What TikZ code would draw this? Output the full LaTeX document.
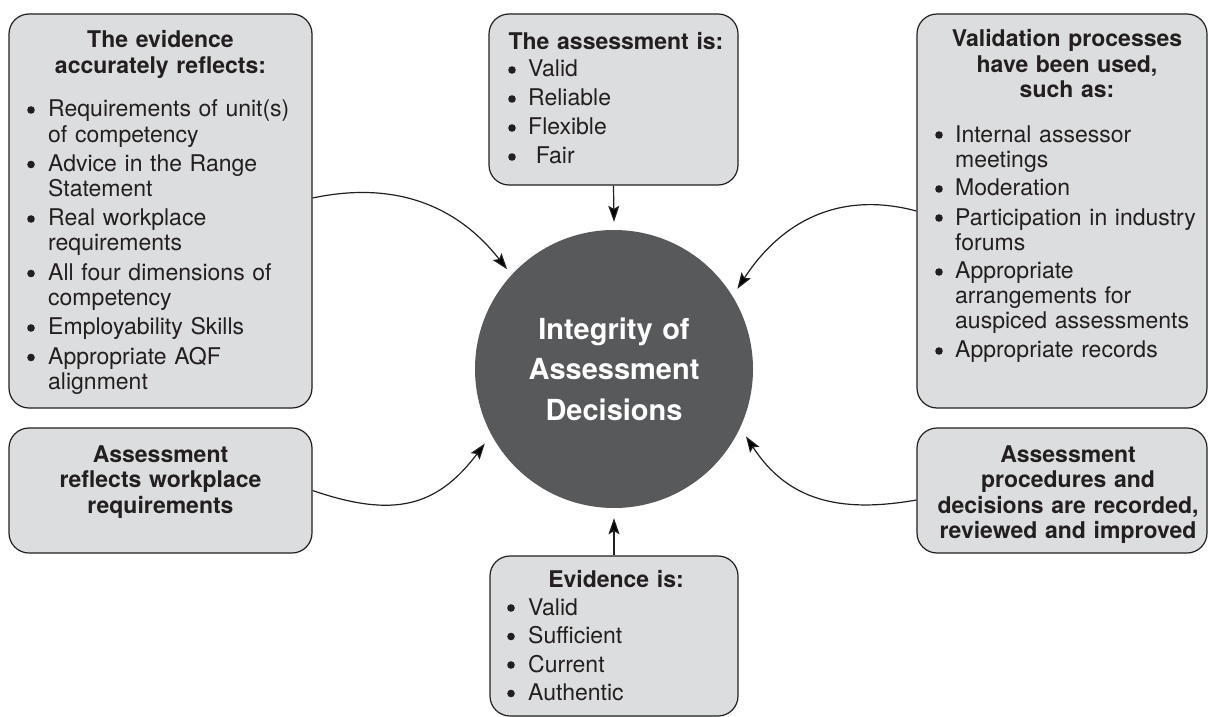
\documentclass[tikz,border=0pt]{standalone}
\usepackage{fontspec}
\setmainfont{TeX Gyre Heros}
\usetikzlibrary{arrows.meta}
\definecolor{boxfill}{HTML}{DCDDDE}
\definecolor{ink}{HTML}{231F20}
\definecolor{discfill}{HTML}{58595B}
\newlength\bulind
\newlength\itemgap
\newcommand\bdot{\tikz[baseline={(0pt,-7pt)}]\fill[ink] (0pt,0pt) circle (3.8pt);}
\newcommand\firstitem[1]{\hangindent=\bulind\hangafter=1 \makebox[\bulind][l]{\bdot}#1}
\newcommand\nextitem[1]{\par\vspace{\itemgap}\noindent\firstitem{#1}}
\tikzset{
  box/.style={draw=ink, line width=1.2pt, fill=boxfill, rounded corners=20pt, inner sep=0pt},
  disc/.style={circle, fill=discfill, minimum size=278pt, inner sep=0pt},
  ttl/.style={anchor=base, inner sep=0pt, text width=#1, align=center, text=ink,
    font=\bfseries\fontsize{23}{25.5}\selectfont},
  lst/.style n args={3}{anchor=base west, inner sep=0pt, text width=#1, align=left, text=ink,
    font=\fontsize{23}{25}\selectfont,
    execute at begin node={\setlength\bulind{#2}\setlength\itemgap{#3}}},
  arr/.style={draw=ink, line width=1.2pt, -{Stealth[length=16pt,width=11pt,inset=3pt]}},
}
\begin{document}
\begin{tikzpicture}[x=1pt,y=-1pt]
\useasboundingbox (0,0) rectangle (1208,717);
% boxes
\node[box, minimum width=303pt, minimum height=394pt] (tl) at (160.5,211) {};
\node[box, minimum width=249pt, minimum height=171pt] (tc) at (613.5,99.5) {};
\node[box, minimum width=290pt, minimum height=394pt] (tr) at (1062,211) {};
\node[box, minimum width=303pt, minimum height=125pt] (ml) at (160.5,490.5) {};
\node[box, minimum width=290pt, minimum height=125pt] (mr) at (1062,490.5) {};
\node[box, minimum width=248pt, minimum height=160pt] (bc) at (614,636) {};
\node[disc] (c) at (614,369) {};
% centre text
\node[anchor=base, inner sep=0pt, text width=260pt, align=center, text=white,
  font=\bfseries\fontsize{29}{40.5}\selectfont] (ctext) at (614,339)
  {Integrity of\\Assessment\\Decisions};
% top-left
\node[ttl=290pt] (tlt) at (160.5,48) {The evidence\\accurately reflects:};
\node[lst={280pt}{21pt}{4.5pt}] (tll) at (27,117) {%
\firstitem{Requirements of unit(s)\newline of competency}%
\nextitem{Advice in the Range\newline Statement}%
\nextitem{Real workplace\newline requirements}%
\nextitem{All four dimensions of\newline competency}%
\nextitem{Employability Skills}%
\nextitem{Appropriate AQF\newline alignment}\par};
% top-centre
\node[ttl=240pt] (tct) at (616,50) {The assessment is:};
\node[lst={220pt}{20pt}{4pt}] (tcl) at (508,77) {%
\firstitem{Valid}%
\nextitem{Reliable}%
\nextitem{Flexible}%
\nextitem{\ Fair}\par};
% top-right
\node[ttl=285pt] (trt) at (1067,47) {Validation processes\\have been used,\\such as:};
\node[lst={265pt}{20pt}{4pt}] (trl) at (935,142) {%
\firstitem{Internal assessor\newline meetings}%
\nextitem{Moderation}%
\nextitem{Participation in industry\newline forums}%
\nextitem{Appropriate\newline arrangements for\newline auspiced assessments}%
\nextitem{Appropriate records}\par};
% middle-left
\node[ttl=290pt] (mlt) at (160.5,462) {Assessment\\reflects workplace\\requirements};
% middle-right
\node[ttl=285pt] (mrt) at (1068,462) {Assessment\\procedures and\\decisions are recorded,\\reviewed and improved};
% bottom-centre
\node[ttl=240pt] (bct) at (616,587) {Evidence is:};
\node[lst={220pt}{21pt}{3.5pt}] (bcl) at (507,615) {%
\firstitem{Valid}%
\nextitem{Sufficient}%
\nextitem{Current}%
\nextitem{Authentic}\par};
% connectors
\draw[arr] (tc.south) -- ([yshift=8pt]c.north);
\draw[arr] (bc.north) -- ([yshift=-10pt]c.south);
\draw[arr] ([yshift=13pt]tl.east) .. controls +(12:85pt) and +(128:80pt) .. ([shift={(137:7pt)}]c.137);
\draw[arr] (ml.east) .. controls +(-19:85pt) and +(233:80pt) .. ([shift={(210:10pt)}]c.210);
\draw[arr] (tr.west) .. controls +(165:80pt) and +(57:80pt) .. ([shift={(33.4:8pt)}]c.33.4);
\draw[arr] ([yshift=-9.5pt]mr.west) .. controls +(190:80pt) and +(-57:75pt) .. ([shift={(-27.6:9pt)}]c.-27.6);
\end{tikzpicture}
\end{document}
